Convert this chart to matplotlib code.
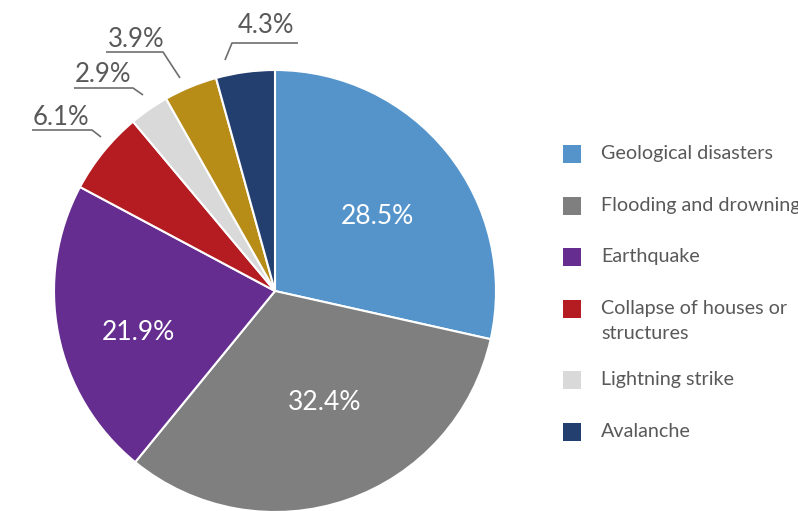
import matplotlib
matplotlib.use("Agg")
import matplotlib.pyplot as plt
from matplotlib.patches import Rectangle

# Share of deaths by cause
categories = ["Geological disasters", "Flooding and drowning", "Earthquake",
              "Collapse of houses or\nstructures", "Lightning strike", "Other", "Avalanche"]
values = [28.5, 32.4, 21.9, 6.1, 2.9, 3.9, 4.3]
colors = ["#5494CB", "#7F7F80", "#662D91", "#B41C22", "#D9D9D9", "#B78C17", "#233F70"]
legend_order = [0, 1, 2, 3, 4, 6]

W, H = 798, 511
CX, CY, R = 275, 291, 221

plt.rcParams["font.family"] = ["Lato", "DejaVu Sans"]
fig = plt.figure(figsize=(W / 100, H / 100), dpi=100)
ax = fig.add_axes([0, 0, 1, 1])


def px(x, y):
    """Pixel position (from top-left) to data coordinates."""
    return (x - CX) / R, (CY - y) / R


ax.pie(values, colors=colors, startangle=90, counterclock=False,
       radius=1, center=(0, 0), frame=True,
       wedgeprops=dict(edgecolor="white", linewidth=1.5))
ax.set_xlim(-CX / R, (W - CX) / R)
ax.set_ylim(-(H - CY) / R, CY / R)
ax.set_aspect("equal")
ax.axis("off")

# Labels inside the large slices
inner = {0: (377, 216), 1: (325, 402), 2: (138, 333)}
for i, (x, y) in inner.items():
    ax.text(*px(x, y), f"{values[i]}%", color="white", fontsize=19,
            ha="center", va="center")

# Labels outside the small slices, with leader lines
outer = {
    3: dict(text=(61, 117), line=[(32, 130), (92, 130), (101, 137)]),
    4: dict(text=(103, 74), line=[(74, 88), (133, 88), (143, 95)]),
    5: dict(text=(136, 39), line=[(106, 52), (163, 52), (180, 78)]),
    6: dict(text=(266, 25), line=[(298, 43), (232, 43), (225, 60)]),
}
for i, spec in outer.items():
    pts = [px(x, y) for x, y in spec["line"]]
    ax.plot([p[0] for p in pts], [p[1] for p in pts], color="#6E6E6E", lw=1.2,
            solid_capstyle="butt")
    ax.text(*px(*spec["text"]), f"{values[i]}%", color="#595959", fontsize=18.5,
            ha="center", va="center")

# Legend
rows_y = [154, 206, 257, 309, 380, 432]
for i, y in zip(legend_order, rows_y):
    x0, y0 = px(563, y + 9)
    ax.add_patch(Rectangle((x0, y0), 18 / R, 18 / R, facecolor=colors[i],
                           edgecolor="none", clip_on=False))
    ax.text(*px(601, y - 9), categories[i], color="#595959", fontsize=14.2,
            ha="left", va="top", linespacing=1.6)

fig.savefig("out.png", dpi=100)
